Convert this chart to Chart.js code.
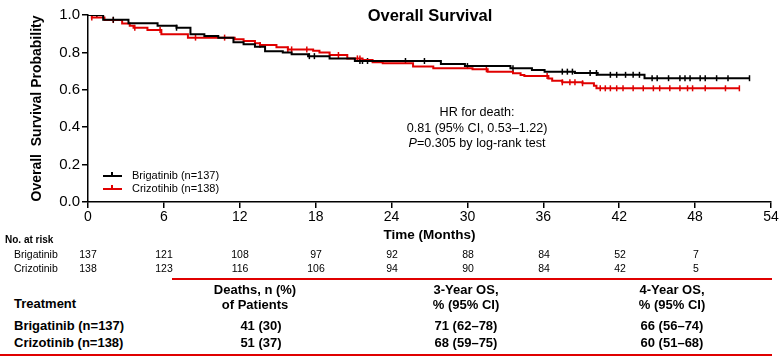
<!DOCTYPE html>
<html>
<head>
<meta charset="utf-8">
<script src="https://cdn.jsdelivr.net/npm/chart.js@4.4.1/dist/chart.umd.min.js"></script>
<style>
  html, body { margin: 0; padding: 0; background: #fff; }
  body { width: 781px; height: 359px; overflow: hidden; font-family: "Liberation Sans", Arial, sans-serif; color: #000; }
  #wrap { position: relative; width: 781px; height: 359px; }
  #plot { position: absolute; left: 0; top: 0; width: 781px; height: 245px; }
  .abs { position: absolute; white-space: nowrap; }
  .title { font-weight: bold; font-size: 16.5px; left: 330px; width: 200px; top: 6px; text-align: center; }
  .hr { font-size: 12.6px; left: 377px; width: 200px; text-align: center; line-height: 15.5px; top: 105px; }
  .leg { font-size: 11px; left: 103px; }
  .leg span.sym { display: inline-block; position: relative; width: 19px; height: 2px; vertical-align: middle; margin-right: 10px; }
  .leg span.sym i { position: absolute; left: 8px; top: -3px; width: 2px; height: 4px; }
  .risk { font-size: 10.5px; font-family: "Liberation Sans Narrow", "Liberation Sans", Arial, sans-serif; }
  .num { width: 40px; text-align: center; }
  .tb { font-size: 13px; font-weight: bold; }
  .c { text-align: center; width: 160px; }
  .line { position: absolute; height: 1.5px; background: #e00000; }
</style>
</head>
<body>
<div id="wrap">
  <div id="plot"><canvas id="kmChart"></canvas></div>
  <div class="abs title">Overall Survival</div>
  <div class="abs hr">HR for death:<br>0.81 (95% CI, 0.53–1.22)<br><i>P</i>=0.305 by log-rank test</div>
  <div class="abs leg" style="top:169px"><span class="sym" style="background:#000"><i style="background:#000"></i></span>Brigatinib (n=137)</div>
  <div class="abs leg" style="top:182px"><span class="sym" style="background:#e00000"><i style="background:#e00000"></i></span>Crizotihib (n=138)</div>
  <div id="risk"></div>
  <div class="line" style="left:172px;width:600px;top:278px"></div>
  <div class="abs tb" style="left:14px;top:296px">Treatment</div>
  <div class="abs tb c" style="left:175px;top:282px;line-height:15px">Deaths, n (%)<br>of Patients</div>
  <div class="abs tb c" style="left:386px;top:282px;line-height:15px">3-Year OS,<br>% (95% CI)</div>
  <div class="abs tb c" style="left:592px;top:282px;line-height:15px">4-Year OS,<br>% (95% CI)</div>
  <div id="rows"></div>
  <div class="line" style="left:0;width:772px;top:354px"></div>
</div>
<script>
// Kaplan-Meier steps (months, survival probability)
const brigTimes = [0, 1.2, 3.2, 5.5, 7.0, 8.1, 9.2, 10.3, 11.5, 12.3, 13.2, 14.0, 15.4, 16.1, 17.4, 19.1, 21.1, 27.9, 29.8, 33.4, 35.1, 36.1, 38.5, 40.3, 44.0, 52.3];
const brigSurv  = [1.0, 0.975, 0.956, 0.943, 0.932, 0.897, 0.888, 0.878, 0.854, 0.843, 0.83, 0.806, 0.80, 0.79, 0.78, 0.768, 0.754, 0.738, 0.727, 0.715, 0.706, 0.697, 0.69, 0.68, 0.662, 0.662];
const crizTimes = [0, 0.3, 1.3, 2.7, 3.3, 3.6, 4.7, 5.8, 7.9, 11.6, 12.3, 13.2, 13.6, 14.9, 15.8, 17.8, 18.3, 19.1, 20.5, 21.7, 22.5, 23.3, 25.7, 27.3, 30.4, 31.6, 33.6, 34.2, 34.5, 36.4, 36.7, 37.5, 39.1, 40.0, 40.2, 51.5];
const crizSurv  = [1.0, 0.986, 0.973, 0.955, 0.943, 0.932, 0.92, 0.897, 0.879, 0.87, 0.861, 0.849, 0.84, 0.827, 0.816, 0.809, 0.80, 0.786, 0.768, 0.759, 0.747, 0.742, 0.724, 0.715, 0.71, 0.697, 0.688, 0.679, 0.674, 0.661, 0.649, 0.64, 0.635, 0.622, 0.608, 0.608];

// censoring marks (months)
const brigCensor = [0.7, 2.0, 7.0, 17.5, 17.9, 21.5, 21.7, 22.1, 25.1, 26.6, 30.0, 33.6, 37.5, 37.9, 38.3, 39.7, 40.2, 41.3, 41.8, 42.5, 43.1, 43.6, 44.6, 45.0, 45.9, 46.8, 47.2, 47.6, 48.4, 48.8, 49.7, 50.6, 52.3];
const crizCensor = [0.3, 2.0, 3.7, 5.7, 8.5, 10.8, 13.6, 15.8, 16.1, 17.3, 19.8, 21.3, 21.5, 31.5, 36.3, 37.5, 38.1, 38.5, 39.1, 40.5, 40.9, 41.3, 41.8, 42.3, 43.1, 43.9, 44.7, 45.2, 46.0, 46.8, 47.4, 47.8, 48.8, 50.4, 51.5];

const xTicks = [0, 6, 12, 18, 24, 30, 36, 42, 48, 54];
const brigAtRisk = [137, 121, 108, 97, 92, 88, 84, 52, 7];
const crizAtRisk = [138, 123, 116, 106, 94, 90, 84, 42, 5];

const tableRows = ['Brigatinib (n=137)', 'Crizotinib (n=138)'];
const deaths = ['41 (30)', '51 (37)'];
const os3 = ['71 (62–78)', '68 (59–75)'];
const os4 = ['66 (56–74)', '60 (51–68)'];

const RED = '#e00000';

function toPoints(times, surv) {
    return times.map((t, i) => ({ x: t, y: surv[i] }));
}
function survAt(times, surv, t) {
    let s = surv[0];
    for (let i = 0; i < times.length; i++) {
        if (times[i] <= t) s = surv[i];
    }
    return s;
}
function censorPoints(cens, times, surv) {
    return cens.map(t => ({ x: t, y: survAt(times, surv, t) }));
}

const ctx = document.getElementById('kmChart').getContext('2d');
new Chart(ctx, {
    type: 'line',
    data: {
        datasets: [
            { label: 'Brigatinib (n=137)', data: toPoints(brigTimes, brigSurv), borderColor: '#000', borderWidth: 2, stepped: true, pointRadius: 0, fill: false },
            { label: 'Crizotihib (n=138)', data: toPoints(crizTimes, crizSurv), borderColor: RED, borderWidth: 2, stepped: true, pointRadius: 0, fill: false },
            { type: 'scatter', data: censorPoints(brigCensor, brigTimes, brigSurv), pointStyle: 'line', rotation: 90, pointRadius: 3, borderColor: '#000', borderWidth: 1.5, showLine: false },
            { type: 'scatter', data: censorPoints(crizCensor, crizTimes, crizSurv), pointStyle: 'line', rotation: 90, pointRadius: 3, borderColor: RED, borderWidth: 1.5, showLine: false }
        ]
    },
    options: {
        responsive: true,
        maintainAspectRatio: false,
        animation: false,
        layout: { padding: { top: 15, right: 10, left: 0, bottom: 0 } },
        plugins: { legend: { display: false }, tooltip: { enabled: false } },
        scales: {
            x: {
                type: 'linear', min: 0, max: 54,
                afterBuildTicks: s => { s.ticks = xTicks.map(v => ({ value: v })); },
                afterFit: s => { s.height = 43; },
                grid: { drawOnChartArea: false, tickLength: 6, color: '#000', lineWidth: 1.5 },
                border: { color: '#000', width: 1.5 },
                ticks: { color: '#000', font: { size: 14, family: 'Liberation Sans' }, padding: 1, maxRotation: 0 },
                title: { display: true, text: 'Time (Months)', color: '#000', font: { size: 13.5, weight: 'bold', family: 'Liberation Sans' }, padding: { top: 0, bottom: 2 } }
            },
            y: {
                min: 0, max: 1.0,
                ticks: {
                    stepSize: 0.1, color: '#000', padding: 2,
                    font: { size: 15, family: 'Liberation Sans' },
                    callback: v => (Math.round(v * 10) % 2 === 0 ? v.toFixed(1) : '')
                },
                afterFit: s => { s.width = 88; },
                grid: { drawOnChartArea: false, tickLength: 6, color: '#000', lineWidth: 1.5 },
                border: { color: '#000', width: 1.5 },
                title: { display: true, text: 'Overall  Survival Probability', color: '#000', font: { size: 14, weight: 'bold', family: 'Liberation Sans' }, padding: { top: 29, bottom: 0 } }
            }
        }
    }
});

// number-at-risk table aligned to x ticks
const risk = document.getElementById('risk');
function addDiv(parent, cls, text, left, top, style) {
    const d = document.createElement('div');
    d.className = cls;
    d.textContent = text;
    d.style.left = left + 'px';
    d.style.top = top + 'px';
    if (style) d.style.cssText += style;
    parent.appendChild(d);
}
addDiv(risk, 'abs risk', 'No. at risk', 5, 234, 'font-weight:bold;font-family:"Liberation Sans",Arial,sans-serif;font-size:10px');
addDiv(risk, 'abs risk', 'Brigatinib', 14, 248);
addDiv(risk, 'abs risk', 'Crizotinib', 14, 262);
brigAtRisk.forEach((n, i) => addDiv(risk, 'abs risk num', n, 88 + i * 76 - 20, 248));
crizAtRisk.forEach((n, i) => addDiv(risk, 'abs risk num', n, 88 + i * 76 - 20, 262));

// summary table rows
const rows = document.getElementById('rows');
tableRows.forEach((name, i) => {
    const top = 318 + i * 17;
    addDiv(rows, 'abs tb', name, 14, top);
    addDiv(rows, 'abs tb c', deaths[i], 181, top);
    addDiv(rows, 'abs tb c', os3[i], 386, top);
    addDiv(rows, 'abs tb c', os4[i], 592, top);
});
</script>
</body>
</html>
